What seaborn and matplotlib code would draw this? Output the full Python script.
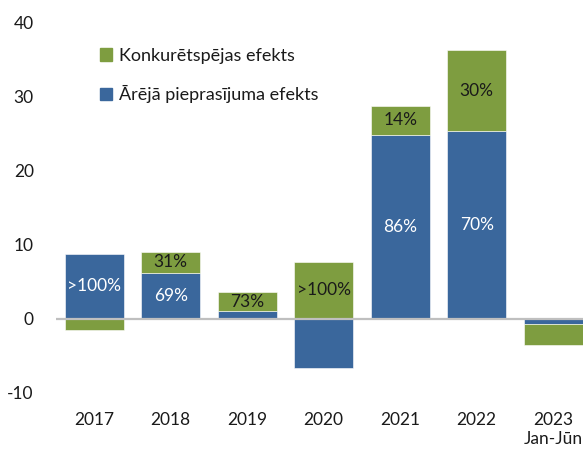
import numpy as np
import matplotlib.pyplot as plt
import seaborn as sns
from matplotlib.patches import Patch

years = ["2017", "2018", "2019", "2020", "2021", "2022", "2023\nJan-Jūn"]
demand = [8.8, 6.2, 1.0, -6.6, 24.8, 25.3, -0.7]
compet = [-1.5, 2.8, 2.6, 7.7, 3.9, 10.9, -2.8]
demand_labels = [">100%", "69%", "", "", "86%", "70%", ""]
compet_labels = ["", "31%", "73%", ">100%", "14%", "30%", ""]
yticks = [-10, 0, 10, 20, 30, 40]

blue = "#3A679C"
green = "#7E9D40"

sns.set_style("white")
plt.rcParams["font.family"] = ["Lato", "DejaVu Sans"]
plt.rcParams["axes.unicode_minus"] = False

d = np.array(demand)
c = np.array(compet)
# green stacks on top of blue on the same side of zero, otherwise from zero
c_bottom = np.where(c >= 0, np.maximum(d, 0), np.minimum(d, 0))

fig = plt.figure(figsize=(5.83, 4.53), dpi=100)
ax = fig.add_axes([0.096, 0.1325, 0.904, 0.8185])

sns.barplot(x=years, y=demand, color=blue, width=0.77, saturation=1,
            edgecolor="white", linewidth=0.4, ax=ax)
sns.barplot(x=years, y=compet, bottom=c_bottom, color=green, width=0.77,
            saturation=1, edgecolor="white", linewidth=0.4, ax=ax)

ax.bar_label(ax.containers[0], labels=demand_labels, label_type="center",
             color="white", fontsize=12.5)
ax.bar_label(ax.containers[1], labels=compet_labels, label_type="center",
             color="#1a1a1a", fontsize=12.5)

ax.axhline(0, color="#BFBFBF", linewidth=1.6, zorder=3)

ax.set_ylim(-10, 40)
ax.set_xlim(-0.5, 6.39)
ax.set_yticks(yticks)
ax.set_yticklabels([str(t) for t in yticks])
ax.tick_params(axis="both", length=0, labelsize=12.5, colors="#1a1a1a")
ax.tick_params(axis="y", pad=16)
ax.tick_params(axis="x", pad=14)
ax.set_xlabel("")
ax.set_ylabel("")
for s in ax.spines.values():
    s.set_visible(False)

handles = [Patch(color=green), Patch(color=blue)]
ax.legend(handles, ["Konkurētspējas efekts", "Ārējā pieprasījuma efekts"],
          loc="upper left", bbox_to_anchor=(0.052, 0.975), frameon=False,
          fontsize=13, handlelength=0.7, handleheight=0.7,
          handletextpad=0.35, labelspacing=1.2, labelcolor="#1a1a1a")

fig.savefig("out.png", dpi=100)
